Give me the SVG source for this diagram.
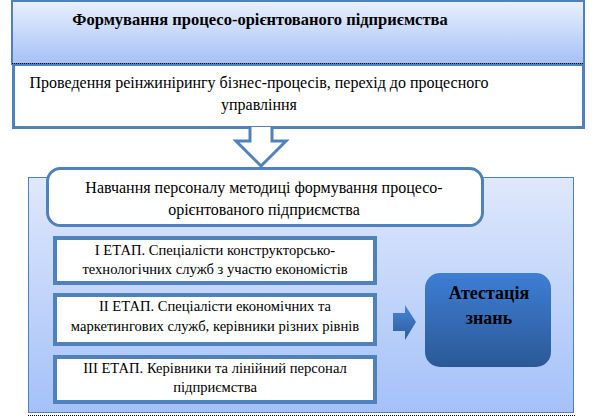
<svg xmlns="http://www.w3.org/2000/svg" width="596" height="419" viewBox="0 0 596 419">
<defs>
<linearGradient id="gTop" x1="0" y1="0" x2="0" y2="1"><stop offset="0" stop-color="#eaf0fd"/><stop offset="1" stop-color="#a4c1f8"/></linearGradient>
<linearGradient id="gPanel" x1="0" y1="0" x2="0" y2="1"><stop offset="0" stop-color="#dfe8fc"/><stop offset="1" stop-color="#a4c1f8"/></linearGradient>
<linearGradient id="gAtt" x1="0" y1="0" x2="0" y2="1"><stop offset="0" stop-color="#3d7ed4"/><stop offset="1" stop-color="#2b5996"/></linearGradient>
<linearGradient id="gArr" x1="0" y1="0" x2="0" y2="1"><stop offset="0" stop-color="#4a86d6"/><stop offset="1" stop-color="#2c5b9a"/></linearGradient>
<style>
text{font-family:Liberation Serif,serif;fill:#000;text-anchor:middle}
.t16{font-size:16px}
.t15{font-size:14.6px}
.b{font-weight:bold}
.stage{fill:#fff;stroke:#4f81bd;stroke-width:4}
.dot{stroke:#000;stroke-width:1;stroke-dasharray:1 1;fill:none}
</style>
</defs>
<g id="panel">
<rect x="28.5" y="177.5" width="545" height="235" fill="url(#gPanel)" stroke="#4f81bd" stroke-width="1"/>
<line class="dot" x1="28" y1="415.5" x2="576" y2="415.5"/>
</g>
<g id="title">
<rect x="12" y="1" width="572" height="63" fill="url(#gTop)" stroke="#4f81bd" stroke-width="2"/>
<text class="b" font-family="Liberation Serif, serif" font-size="16.5" x="260" y="25">Формування процесо-орієнтованого підприємства</text>
</g>
<g id="reengineering">
<rect x="13.5" y="64.5" width="570" height="63" fill="#fff" stroke="#4f81bd" stroke-width="3"/>
<line class="dot" x1="12" y1="63.5" x2="584" y2="63.5"/>
<text class="t16" font-family="Liberation Serif, serif" x="259" y="88">Проведення реінжинірингу бізнес-процесів, перехід до процесного</text>
<text class="t16" font-family="Liberation Serif, serif" x="259" y="110">управління</text>
</g>
<g id="connectors">
<path d="M250,127 V141 H236 L261,166 L286,141 H272 V127" fill="#fff" stroke="#4f81bd" stroke-width="3" stroke-linejoin="miter"/>
<path d="M393,313 H405 V305 L416,322 L405,340 V331 H393 Z" fill="url(#gArr)"/>
</g>
<g id="training">
<rect x="47.5" y="168.5" width="435" height="57" rx="13" fill="#fff" stroke="#4f81bd" stroke-width="3"/>
<text class="t16" font-family="Liberation Serif, serif" x="264" y="193">Навчання персоналу методиці формування процесо-</text>
<text class="t16" font-family="Liberation Serif, serif" x="264" y="215">орієнтованого підприємства</text>
</g>
<g id="stage1">
<rect class="stage" x="55" y="238" width="320" height="45"/>
<text class="t15" font-family="Liberation Serif, serif" x="215" y="255">І ЕТАП. Спеціалісти конструкторсько-</text>
<text class="t15" font-family="Liberation Serif, serif" x="215" y="274">технологічних служб з участю економістів</text>
</g>
<g id="stage2">
<rect class="stage" x="55" y="295" width="320" height="49"/>
<text class="t15" font-family="Liberation Serif, serif" x="215" y="311">ІІ ЕТАП. Спеціалісти економічних та</text>
<text class="t15" font-family="Liberation Serif, serif" x="215" y="331">маркетингових служб, керівники різних рівнів</text>
</g>
<g id="stage3">
<rect class="stage" x="55" y="357" width="320" height="45"/>
<text class="t15" font-family="Liberation Serif, serif" x="215" y="373">ІІІ ЕТАП. Керівники та лінійний персонал</text>
<text class="t15" font-family="Liberation Serif, serif" x="215" y="392">підприємства</text>
</g>
<g id="attestation">
<rect x="425" y="273" width="126" height="94" rx="15" fill="url(#gAtt)"/>
<text class="b" font-family="Liberation Serif, serif" font-size="18" x="489" y="299">Атестація</text>
<text class="b" font-family="Liberation Serif, serif" font-size="18" x="489" y="324">знань</text>
</g>
</svg>
